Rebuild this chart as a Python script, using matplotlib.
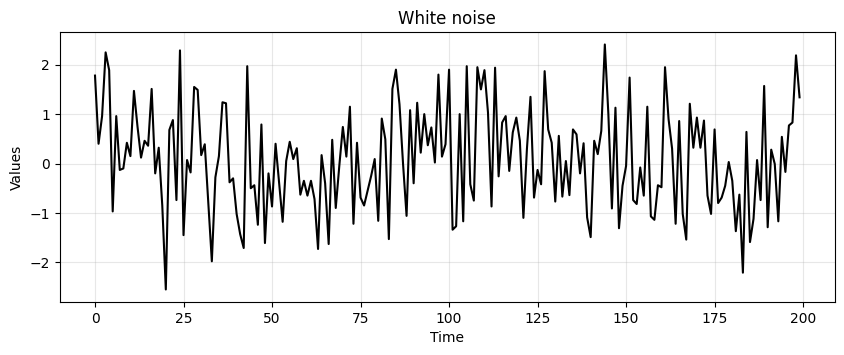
import matplotlib
matplotlib.use("Agg")
import matplotlib.pyplot as plt

# white noise samples (200 points)
values = [
    1.78, 0.40, 0.96, 2.25, 1.89, -0.97, 0.96, -0.13, -0.10, 0.42,
    0.15, 1.47, 0.75, 0.12, 0.46, 0.36, 1.51, -0.20, 0.32, -0.85,
    -2.55, 0.68, 0.88, -0.74, 2.29, -1.45, 0.07, -0.18, 1.55, 1.49,
    0.17, 0.39, -0.80, -1.98, -0.28, 0.15, 1.24, 1.22, -0.38, -0.30,
    -1.02, -1.43, -1.71, 1.97, -0.50, -0.44, -1.24, 0.79, -1.61, -0.20,
    -0.87, 0.40, -0.38, -1.18, 0.05, 0.44, 0.09, 0.31, -0.63, -0.35,
    -0.65, -0.35, -0.72, -1.73, 0.17, -0.40, -1.63, 0.48, -0.90, -0.05,
    0.74, 0.14, 1.15, -1.22, 0.42, -0.69, -0.85, -0.55, -0.25, 0.09,
    -1.16, 0.91, 0.49, -1.53, 1.51, 1.90, 1.20, 0.00, -1.06, 1.08,
    -0.40, 1.23, 0.22, 1.00, 0.37, 0.73, 0.02, 1.80, 0.14, 0.39,
    1.90, -1.34, -1.27, 1.00, -1.17, 1.97, -0.42, -0.75, 1.95, 1.50,
    1.89, 1.03, -0.87, 1.94, -0.26, 0.83, 0.96, -0.15, 0.63, 0.93,
    0.46, -1.10, 0.30, 1.35, -0.69, -0.13, -0.42, 1.87, 0.69, 0.42,
    -0.77, 0.56, -0.67, 0.05, -0.64, 0.69, 0.59, -0.20, 0.41, -1.09,
    -1.49, 0.46, 0.19, 0.66, 2.41, 1.00, -0.91, 1.13, -1.31, -0.45,
    -0.05, 1.74, -0.74, -0.82, -0.08, -0.65, 1.15, -1.07, -1.14, -0.44,
    -0.48, 1.95, 0.90, 0.30, -1.22, 0.86, -1.02, -1.54, 1.21, 0.32,
    0.93, 0.32, 0.87, -0.65, -1.02, 0.69, -0.80, -0.69, -0.45, 0.03,
    -0.35, -1.37, -0.63, -2.21, 0.64, -1.59, -1.12, 0.07, -0.74, 1.57,
    -1.29, 0.28, -0.01, -1.17, 0.54, -0.17, 0.77, 0.83, 2.19, 1.34,
]
time = list(range(len(values)))

fig, ax = plt.subplots(figsize=(10, 3.5))
ax.plot(time, values, color="black", linewidth=1.5)
ax.set_title("White noise")
ax.set_xlabel("Time")
ax.set_ylabel("Values")
ax.grid(True, alpha=0.3)

plt.savefig("out.png", dpi=100, bbox_inches="tight")
